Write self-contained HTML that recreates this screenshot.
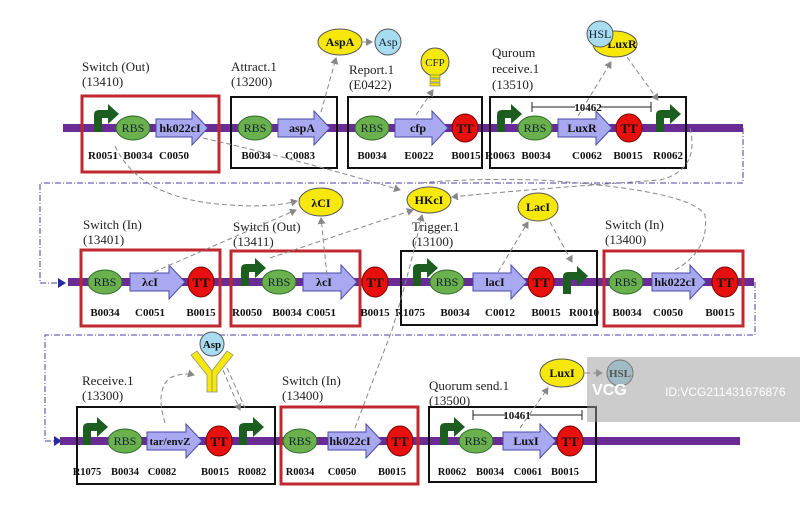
<!DOCTYPE html>
<html><head><meta charset="utf-8"><style>
body{margin:0;background:#fff}
svg{display:block}
.t{font-family:"Liberation Serif",serif;font-size:13px;fill:#222}
.l{font-family:"Liberation Serif",serif;font-size:11px;font-weight:bold;fill:#111;text-anchor:middle}
.r{font-family:"Liberation Serif",serif;font-size:12px;fill:#123;text-anchor:middle}
.g{font-family:"Liberation Serif",serif;font-size:12px;font-weight:bold;fill:#111;text-anchor:middle}
.tt{font-family:"Liberation Serif",serif;font-size:13px;font-weight:bold;fill:#111;text-anchor:middle}
.bb{fill:#6b2b95}
.rbs{fill:#6ab04c;stroke:#2a6a2a;stroke-width:1}
.ar{fill:#a9a9f2;stroke:#4a4aa8;stroke-width:1}
.ttc{fill:#e8100f;stroke:#700;stroke-width:1}
.pr{fill:#1b5e20}
.rb{fill:none;stroke:#c0282f;stroke-width:3}
.kb{fill:none;stroke:#111;stroke-width:2}
.dash{fill:none;stroke:#888;stroke-width:1;stroke-dasharray:5,3}
.dd{fill:none;stroke:#4a3fa0;stroke-width:1;stroke-dasharray:6,2,1,2}
</style></head><body>
<svg width="800" height="532" viewBox="0 0 800 532" xmlns="http://www.w3.org/2000/svg">
<defs>
<marker id="ah" markerWidth="8" markerHeight="8" refX="6" refY="4" orient="auto"><path d="M0,0 L7,4 L0,8 Z" fill="#888"/></marker>
<path id="prom" d="M0,4 L0,-13 Q0,-18 5,-18 L14,-18 L14,-24 L25,-14 L14,-4 L14,-10 L8,-10 L8,4 Z"/>
</defs>

<path class="dd" d="M743,128 L743,183 L40,183 L40,283 L62,283"/>
<path d="M58,278 L66,283 L58,288 Z" fill="#2a2aa0"/>
<path class="dd" d="M755,282 L755,335 L45,335 L45,441 L58,441"/>
<path d="M54,436 L62,441 L54,446 Z" fill="#2a2aa0"/>

<rect class="bb" x="63" y="124" width="680" height="8"/>
<rect class="bb" x="68" y="278" width="686" height="8"/>
<rect class="bb" x="60" y="437" width="680" height="8"/>

<!-- ROW 1 -->
<text class="t" x="82" y="71">Switch (Out)</text><text class="t" x="82" y="86">(13410)</text>
<rect class="rb" x="82" y="96" width="137" height="76"/>
<use href="#prom" class="pr" x="94" y="128"/>
<ellipse class="rbs" cx="133" cy="128" rx="17" ry="12"/><text class="r" x="133" y="132">RBS</text>
<polygon class="ar" points="156,119 192,119 192,111 208,128 192,145 192,137 156,137"/><text class="g" x="180" y="132">hk022cI</text>
<text class="l" x="103" y="159">R0051</text><text class="l" x="138" y="159">B0034</text><text class="l" x="174" y="159">C0050</text>

<text class="t" x="231" y="71">Attract.1</text><text class="t" x="231" y="86">(13200)</text>
<rect class="kb" x="231" y="97" width="106" height="71"/>
<ellipse class="rbs" cx="255" cy="128" rx="17" ry="12"/><text class="r" x="255" y="132">RBS</text>
<polygon class="ar" points="278,119 314,119 314,111 330,128 314,145 314,137 278,137"/><text class="g" x="302" y="132">aspA</text>
<text class="l" x="256" y="159">B0034</text><text class="l" x="300" y="159">C0083</text>
<ellipse cx="340" cy="42" rx="22" ry="13" fill="#f5e80a" stroke="#555"/><text class="g" x="340" y="46">AspA</text>
<circle cx="388" cy="42" r="13" fill="#a8dcf0" stroke="#555"/><text class="r" x="388" y="46">Asp</text>
<path class="dash" d="M363,42 L372,42" marker-end="url(#ah)"/>
<path class="dash" d="M321,112 L336,58" marker-end="url(#ah)"/>

<text class="t" x="349" y="74">Report.1</text><text class="t" x="349" y="89">(E0422)</text>
<rect class="kb" x="348" y="97" width="134" height="71"/>
<ellipse class="rbs" cx="372" cy="128" rx="17" ry="12"/><text class="r" x="372" y="132">RBS</text>
<polygon class="ar" points="395,119 432,119 432,111 448,128 432,145 432,137 395,137"/><text class="g" x="418" y="132">cfp</text>
<ellipse class="ttc" cx="465" cy="128" rx="13" ry="14"/><text class="tt" x="465" y="133">TT</text>
<text class="l" x="372" y="159">B0034</text><text class="l" x="419" y="159">E0022</text><text class="l" x="466" y="159">B0015</text>
<circle cx="435" cy="62" r="14" fill="#f5e80a" stroke="#555"/><text class="r" x="435" y="66" style="font-size:11px">CFP</text>
<rect x="430" y="75" width="10" height="3" fill="#f5e80a" stroke="#555" stroke-width=".5"/><rect x="430" y="79" width="10" height="3" fill="#f5e80a" stroke="#555" stroke-width=".5"/><rect x="430" y="83" width="10" height="3" fill="#f5e80a" stroke="#555" stroke-width=".5"/>
<path class="dash" d="M416,115 L433,90" marker-end="url(#ah)"/>

<text class="t" x="492" y="57">Quroum</text><text class="t" x="492" y="73">receive.1</text><text class="t" x="492" y="89">(13510)</text>
<rect class="kb" x="490" y="97" width="196" height="71"/>
<use href="#prom" class="pr" x="497" y="128"/>
<ellipse class="rbs" cx="535" cy="128" rx="17" ry="12"/><text class="r" x="535" y="132">RBS</text>
<polygon class="ar" points="558,119 596,119 596,111 612,128 596,145 596,137 558,137"/><text class="g" x="582" y="132">LuxR</text>
<ellipse class="ttc" cx="629" cy="128" rx="13" ry="14"/><text class="tt" x="629" y="133">TT</text>
<use href="#prom" class="pr" x="656" y="128"/>
<text class="l" x="500" y="159">R0063</text><text class="l" x="536" y="159">B0034</text><text class="l" x="587" y="159">C0062</text><text class="l" x="628" y="159">B0015</text><text class="l" x="668" y="159">R0062</text>
<path d="M532,102 L532,112 M532,107 L575,107 M600,107 L651,107 M651,102 L651,112" stroke="#222" fill="none"/>
<text class="l" x="588" y="111">10462</text>
<ellipse cx="615" cy="44" rx="22" ry="13" fill="#f5e80a" stroke="#555"/><text class="g" x="622" y="48">LuxR</text>
<circle cx="600" cy="34" r="13" fill="#a8dcf0" stroke="#555"/><text class="r" x="600" y="38">HSL</text>
<path class="dash" d="M578,116 L611,62" marker-end="url(#ah)"/>
<path class="dash" d="M627,57 L658,100" marker-end="url(#ah)"/>

<!-- ROW 2 -->
<text class="t" x="83" y="229">Switch (In)</text><text class="t" x="83" y="244">(13401)</text>
<rect class="rb" x="81" y="250" width="139" height="76"/>
<ellipse class="rbs" cx="105" cy="282" rx="17" ry="12"/><text class="r" x="105" y="286">RBS</text>
<polygon class="ar" points="130,273 169,273 169,265 185,282 169,299 169,291 130,291"/><text class="g" x="150" y="286">λcI</text>
<ellipse class="ttc" cx="201" cy="282" rx="13" ry="15"/><text class="tt" x="201" y="287">TT</text>
<text class="l" x="105" y="316">B0034</text><text class="l" x="150" y="316">C0051</text><text class="l" x="201" y="316">B0015</text>

<text class="t" x="233" y="231">Switch (Out)</text><text class="t" x="233" y="246">(13411)</text>
<rect class="rb" x="231" y="251" width="129" height="75"/>
<use href="#prom" class="pr" x="241" y="282"/>
<ellipse class="rbs" cx="279" cy="282" rx="17" ry="12"/><text class="r" x="279" y="286">RBS</text>
<polygon class="ar" points="303,273 341,273 341,265 357,282 341,299 341,291 303,291"/><text class="g" x="324" y="286">λcI</text>
<text class="l" x="247" y="316">R0050</text><text class="l" x="287" y="316">B0034</text><text class="l" x="321" y="316">C0051</text>
<ellipse class="ttc" cx="375" cy="282" rx="13" ry="15"/><text class="tt" x="375" y="287">TT</text>
<text class="l" x="375" y="316">B0015</text>

<text class="t" x="412" y="231">Trigger.1</text><text class="t" x="412" y="246">(13100)</text>
<rect class="kb" x="401" y="251" width="196" height="74"/>
<use href="#prom" class="pr" x="413" y="282"/>
<ellipse class="rbs" cx="447" cy="282" rx="17" ry="12"/><text class="r" x="447" y="286">RBS</text>
<polygon class="ar" points="473,273 511,273 511,265 527,282 511,299 511,291 473,291"/><text class="g" x="495" y="286">lacI</text>
<ellipse class="ttc" cx="541" cy="282" rx="13" ry="15"/><text class="tt" x="541" y="287">TT</text>
<use href="#prom" class="pr" x="563" y="290"/>
<text class="l" x="410" y="316">R1075</text><text class="l" x="455" y="316">B0034</text><text class="l" x="500" y="316">C0012</text><text class="l" x="546" y="316">B0015</text><text class="l" x="584" y="316">R0010</text>

<text class="t" x="605" y="229">Switch (In)</text><text class="t" x="605" y="244">(13400)</text>
<rect class="rb" x="604" y="251" width="139" height="75"/>
<ellipse class="rbs" cx="626" cy="282" rx="17" ry="12"/><text class="r" x="626" y="286">RBS</text>
<polygon class="ar" points="652,273 690,273 690,265 706,282 690,299 690,291 652,291"/><text class="g" x="675" y="286">hk022cI</text>
<ellipse class="ttc" cx="725" cy="282" rx="13" ry="15"/><text class="tt" x="725" y="287">TT</text>
<text class="l" x="627" y="316">B0034</text><text class="l" x="668" y="316">C0050</text><text class="l" x="720" y="316">B0015</text>

<ellipse cx="321" cy="202" rx="22" ry="14" fill="#f5e80a" stroke="#555"/><text class="g" x="321" y="207">λCI</text>
<ellipse cx="429" cy="200" rx="22" ry="13" fill="#f5e80a" stroke="#555"/><text class="g" x="429" y="204">HKcI</text>
<ellipse cx="538" cy="207" rx="20" ry="14" fill="#f5e80a" stroke="#555"/><text class="g" x="538" y="211">LacI</text>

<path class="dash" d="M115,146 Q140,200 230,205 Q270,208 297,201" marker-end="url(#ah)"/>
<path class="dash" d="M203,138 Q300,160 400,190" marker-end="url(#ah)"/>
<path class="dash" d="M690,128 Q700,170 660,180 Q520,190 452,197" marker-end="url(#ah)"/>
<path class="dash" d="M154,272 L296,210" marker-end="url(#ah)"/>
<path class="dash" d="M327,275 L321,218" marker-end="url(#ah)"/>
<path class="dash" d="M270,258 L413,210" marker-end="url(#ah)"/>
<path class="dash" d="M675,270 Q710,250 705,215 Q690,190 540,180 Q470,178 420,183" />
<path class="dash" d="M498,272 L528,222" marker-end="url(#ah)"/>
<path class="dash" d="M550,222 L572,262" marker-end="url(#ah)"/>
<path class="dash" d="M355,428 L392,330 Q410,270 422,215" marker-end="url(#ah)"/>

<!-- ROW 3 -->
<text class="t" x="82" y="385">Receive.1</text><text class="t" x="82" y="400">(13300)</text>
<rect class="kb" x="77" y="407" width="198" height="77"/>
<use href="#prom" class="pr" x="83" y="441"/>
<ellipse class="rbs" cx="125" cy="441" rx="17" ry="12"/><text class="r" x="125" y="445">RBS</text>
<polygon class="ar" points="147,432 186,432 186,424 202,441 186,458 186,450 147,450"/><text class="g" x="170" y="445" style="font-size:11px">tar/envZ</text>
<ellipse class="ttc" cx="219" cy="441" rx="13" ry="15"/><text class="tt" x="219" y="446">TT</text>
<use href="#prom" class="pr" x="239" y="441"/>
<text class="l" x="87" y="475" style="font-size:10.5px">R1075</text><text class="l" x="125" y="475" style="font-size:10.5px">B0034</text><text class="l" x="162" y="475" style="font-size:10.5px">C0082</text><text class="l" x="215" y="475" style="font-size:10.5px">B0015</text><text class="l" x="252" y="475" style="font-size:10.5px">R0082</text>
<path d="M191,355 L197,351 L212,371 L212,392 L207,392 L207,375 Z M233,355 L227,351 L212,371 L212,392 L217,392 L217,375 Z" fill="#f5e80a" stroke="#887" stroke-width=".7"/>
<circle cx="212" cy="344" r="12" fill="#a8dcf0" stroke="#555"/><text class="g" x="212" y="348" style="font-size:11px">Asp</text>
<path class="dash" d="M165,423 Q155,390 170,378 Q182,372 194,375" marker-end="url(#ah)"/>
<path class="dash" d="M223,370 L240,410" marker-end="url(#ah)"/>
<path class="dash" d="M227,368 L245,408"/>

<text class="t" x="282" y="385">Switch (In)</text><text class="t" x="282" y="400">(13400)</text>
<rect class="rb" x="281" y="407" width="137" height="77"/>
<ellipse class="rbs" cx="300" cy="441" rx="17" ry="12"/><text class="r" x="300" y="445">RBS</text>
<polygon class="ar" points="328,432 366,432 366,424 382,441 366,458 366,450 328,450"/><text class="g" x="350" y="445">hk022cI</text>
<ellipse class="ttc" cx="400" cy="441" rx="13" ry="15"/><text class="tt" x="400" y="446">TT</text>
<text class="l" x="300" y="475" style="font-size:10.5px">R0034</text><text class="l" x="342" y="475" style="font-size:10.5px">C0050</text><text class="l" x="392" y="475" style="font-size:10.5px">B0015</text>

<text class="t" x="429" y="390">Quorum send.1</text><text class="t" x="429" y="405">(13500)</text>
<rect class="kb" x="429" y="407" width="167" height="75"/>
<use href="#prom" class="pr" x="440" y="441"/>
<ellipse class="rbs" cx="476" cy="441" rx="17" ry="12"/><text class="r" x="476" y="445">RBS</text>
<polygon class="ar" points="503,432 540,432 540,424 556,441 540,458 540,450 503,450"/><text class="g" x="526" y="445">LuxI</text>
<ellipse class="ttc" cx="570" cy="441" rx="13" ry="15"/><text class="tt" x="570" y="446">TT</text>
<text class="l" x="452" y="475" style="font-size:10.5px">R0062</text><text class="l" x="490" y="475" style="font-size:10.5px">B0034</text><text class="l" x="528" y="475" style="font-size:10.5px">C0061</text><text class="l" x="565" y="475" style="font-size:10.5px">B0015</text>
<path d="M473,410 L473,420 M473,415 L505,415 M530,415 L582,415 M582,410 L582,420" stroke="#222" fill="none"/>
<text class="l" x="517" y="419">10461</text>
<ellipse cx="562" cy="373" rx="22" ry="14" fill="#f5e80a" stroke="#555"/><text class="g" x="562" y="377">LuxI</text>
<circle cx="620" cy="373" r="13" fill="#a8dcf0" stroke="#555"/><text class="g" x="620" y="377" style="font-size:11px">HSL</text>
<path class="dash" d="M585,373 L602,373" marker-end="url(#ah)"/>
<path class="dash" d="M520,428 L548,388" marker-end="url(#ah)"/>

<rect x="587" y="357" width="213" height="65" fill="#999" opacity="0.5"/>
<text x="665" y="396" style="font-family:'Liberation Sans',sans-serif;font-size:12px;fill:#fff">ID:VCG211431676876</text>
<text x="592" y="395" style="font-family:'Liberation Sans',sans-serif;font-size:16px;font-weight:bold;fill:#fff">VCG</text>
</svg>
</body></html>
